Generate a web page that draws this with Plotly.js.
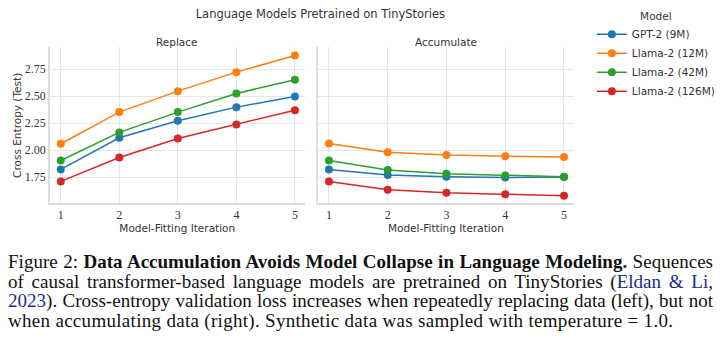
<!DOCTYPE html>
<html>
<head>
<meta charset="utf-8">
<script src="https://cdn.plot.ly/plotly-3.0.1.min.js"></script>
<style>
  html, body { margin: 0; padding: 0; background: #fff; width: 720px; height: 342px; overflow: hidden; }
  #chart { width: 720px; height: 245px; }
  #caption { position: absolute; top: 252px; left: 8px; width: 705px; font-family: "Liberation Serif", serif; font-size: 19px; letter-spacing: 0.02px; color: #111; }
  #caption div { line-height: 19.7px; height: 19.7px; white-space: nowrap; text-align: justify; text-align-last: justify; }
  #caption div.last { text-align-last: left; letter-spacing: 0.3px; }
  .cite { color: #1a2a8a; }
</style>
</head>
<body>
<div id="chart"></div>
<div id="caption">
  <div>Figure 2: <b>Data Accumulation Avoids Model Collapse in Language Modeling.</b> Sequences</div>
  <div>of causal transformer-based language models are pretrained on TinyStories (<span class="cite">Eldan &amp; Li</span>,</div>
  <div><span class="cite">2023</span>). Cross-entropy validation loss increases when repeatedly replacing data (left), but not</div>
  <div class="last">when accumulating data (right). Synthetic data was sampled with temperature = 1.0.</div>
</div>
<script>
const iterations = [1, 2, 3, 4, 5];
const modelNames = ["GPT-2 (9M)", "Llama-2 (12M)", "Llama-2 (42M)", "Llama-2 (126M)"];
const modelColors = ["#1f77b4", "#ff7f0e", "#2ca02c", "#d62728"];

const replaceGPT2_9M    = [1.821, 2.114, 2.272, 2.398, 2.497];
const replaceLlama_12M  = [2.059, 2.352, 2.546, 2.722, 2.877];
const replaceLlama_42M  = [1.904, 2.164, 2.352, 2.525, 2.651];
const replaceLlama_126M = [1.710, 1.932, 2.108, 2.238, 2.370];

const accumGPT2_9M    = [1.821, 1.769, 1.753, 1.747, 1.750];
const accumLlama_12M  = [2.062, 1.981, 1.954, 1.944, 1.935];
const accumLlama_42M  = [1.904, 1.815, 1.781, 1.765, 1.753];
const accumLlama_126M = [1.710, 1.633, 1.605, 1.590, 1.577];

const yTicks = [1.75, 2.00, 2.25, 2.50, 2.75];
const yTickText = ["1.75", "2.00", "2.25", "2.50", "2.75"];

const replaceSeries = [replaceGPT2_9M, replaceLlama_12M, replaceLlama_42M, replaceLlama_126M];
const accumSeries = [accumGPT2_9M, accumLlama_12M, accumLlama_42M, accumLlama_126M];

const traces = [];
replaceSeries.forEach((ys, i) => {
  traces.push({
    x: iterations, y: ys, type: "scatter", mode: "lines+markers",
    name: modelNames[i], showlegend: true,
    line: { color: modelColors[i], width: 1.5 },
    marker: { color: modelColors[i], size: 8 },
    xaxis: "x", yaxis: "y"
  });
});
accumSeries.forEach((ys, i) => {
  traces.push({
    x: iterations, y: ys, type: "scatter", mode: "lines+markers",
    name: modelNames[i], showlegend: false,
    line: { color: modelColors[i], width: 1.5 },
    marker: { color: modelColors[i], size: 8 },
    xaxis: "x2", yaxis: "y2"
  });
});

const W = 720, H = 245;
const sans = "DejaVu Sans, sans-serif";
const serif = "Liberation Serif, serif";
const gridC = "#e6e6e6";

const xCommon = {
  range: [0.81, 5.17], tickvals: iterations, ticktext: iterations.map(String),
  showgrid: true, gridcolor: gridC, gridwidth: 1, zeroline: false,
  showline: true, linecolor: "#dddddd", linewidth: 1.5,
  ticks: "", tickfont: { family: serif, size: 12, color: "#333" },
  title: { text: "Model-Fitting Iteration", font: { family: sans, size: 10.5, color: "#333" }, standoff: 3 }
};
const yCommon = {
  range: [1.51, 2.955], tickvals: yTicks, ticktext: yTickText,
  showgrid: true, gridcolor: gridC, gridwidth: 1, zeroline: false,
  showline: true, linecolor: "#dddddd", linewidth: 1.5,
  ticks: "", tickfont: { family: serif, size: 12, color: "#333" }
};

const layout = {
  width: W, height: H,
  margin: { l: 0, r: 0, t: 0, b: 0 },
  paper_bgcolor: "#fff", plot_bgcolor: "#fff",
  showlegend: true,
  title: { text: "Language Models Pretrained on TinyStories", font: { family: sans, size: 11.5, color: "#333" }, x: 0.445, xanchor: "center", y: 1 - 14 / H, yanchor: "middle" },
  xaxis: Object.assign({}, xCommon, { domain: [50 / W, 307 / W], anchor: "y" }),
  yaxis: Object.assign({}, yCommon, { domain: [1 - 203 / H, 1 - 47 / H], anchor: "x" }),
  xaxis2: Object.assign({}, xCommon, { domain: [320 / W, 578 / W], anchor: "y2" }),
  yaxis2: Object.assign({}, yCommon, { domain: [1 - 203 / H, 1 - 47 / H], anchor: "x2", showticklabels: false }),
  legend: {
    x: 596 / W, y: 1 - 6 / H, xanchor: "left", yanchor: "top",
    bgcolor: "rgba(0,0,0,0)", borderwidth: 0,
    font: { family: sans, size: 10.5, color: "#333" },
    title: { text: "Model", side: "top center", font: { family: sans, size: 10.5, color: "#333" } },
    itemwidth: 30
  },
  annotations: [
    { text: "Replace", xref: "paper", yref: "paper", x: (50 + 307) / 2 / W, y: 1 - 42 / H, xanchor: "center", yanchor: "middle", showarrow: false, font: { family: sans, size: 10.5, color: "#333" } },
    { text: "Accumulate", xref: "paper", yref: "paper", x: (320 + 578) / 2 / W, y: 1 - 42 / H, xanchor: "center", yanchor: "middle", showarrow: false, font: { family: sans, size: 10.5, color: "#333" } },
    { text: "Cross Entropy (Test)", xref: "paper", yref: "paper", x: 17 / W, y: 1 - 125 / H, xanchor: "center", yanchor: "middle", textangle: -90, showarrow: false, font: { family: sans, size: 10.5, color: "#333" } }
  ]
};

Plotly.newPlot("chart", traces, layout, { displayModeBar: false, staticPlot: true });
</script>
</body>
</html>
